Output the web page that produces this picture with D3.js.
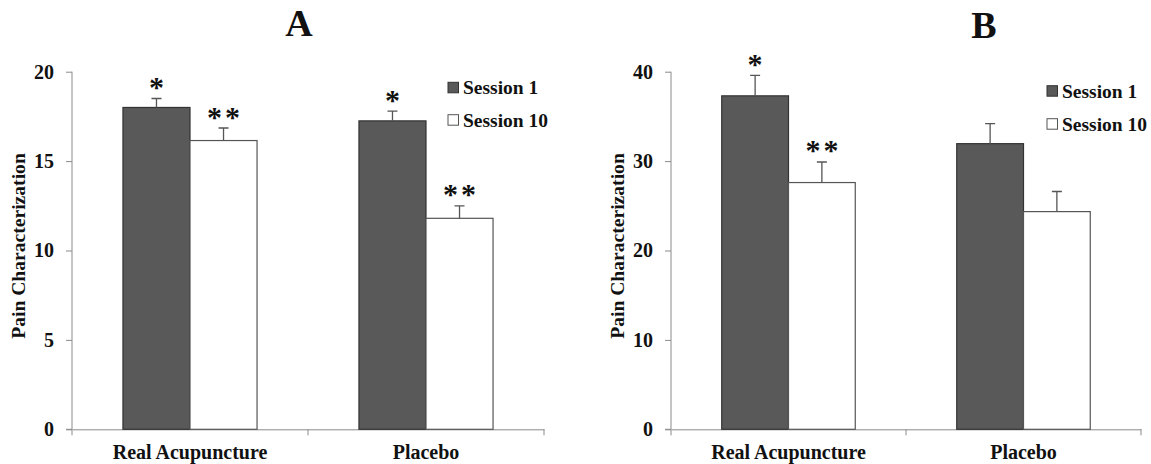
<!DOCTYPE html>
<html>
<head>
<meta charset="utf-8">
<script src="https://cdn.jsdelivr.net/npm/d3@7"></script>
<style>
  html, body { margin: 0; padding: 0; background: #fff; }
  svg text { font-family: "Liberation Serif", "Times New Roman", "DejaVu Serif", serif !important; font-weight: bold; fill: #111; }
</style>
</head>
<body>
<svg id="chart" width="1151" height="464" font-family="Liberation Serif, serif"></svg>
<script>
// ---- data ----
const categories = ["Real Acupuncture", "Placebo"];
const seriesNames = ["Session 1", "Session 10"];
const panelTitles = ["A", "B"];
const yAxisTitle = "Pain Characterization";

const ticksA = [0, 5, 10, 15, 20];
const session1A = [18.0, 17.25];
const session1ErrA = [0.5, 0.55];
const session10A = [16.15, 11.8];
const session10ErrA = [0.7, 0.7];
const marksS1A = ["*", "*"];
const marksS10A = ["**", "**"];

const ticksB = [0, 10, 20, 30, 40];
const session1B = [37.3, 31.95];
const session1ErrB = [2.3, 2.25];
const session10B = [27.6, 24.35];
const session10ErrB = [2.3, 2.25];
const marksS1B = ["*", ""];
const marksS10B = ["**", ""];

const seriesColors = ["#595959", "#ffffff"];
const seriesStroke = ["#333333", "#555555"];

const FONT = "Liberation Serif, Times New Roman, serif";
const svg = d3.select("#chart");

function drawPanel(cfg) {
  const g = svg.append("g");
  const y = d3.scaleLinear().domain([0, cfg.ticks[cfg.ticks.length - 1]]).range([429.3, 71.7]);
  const x0 = d3.scaleBand().domain(categories).range([cfg.left, cfg.right]).paddingInner(0).paddingOuter(0);
  const x1 = d3.scaleBand().domain(seriesNames).range([0, x0.bandwidth()]).paddingInner(0).paddingOuter(0.76);

  // y axis
  const yAxis = d3.axisLeft(y).tickValues(cfg.ticks).tickSize(6).tickPadding(12);
  const yg = g.append("g").attr("transform", `translate(${cfg.left},0)`).call(yAxis)
    .attr("font-family", FONT).attr("font-size", 20).attr("font-weight", "bold");
  yg.select(".domain").attr("stroke", "#8a8a8a").attr("d", `M-6,${y(0)}H0V${y.range()[1]}`);
  yg.selectAll(".tick line").attr("stroke", "#8a8a8a");
  yg.selectAll(".tick text").attr("fill", "#111");

  // x axis (labels)
  const xAxis = d3.axisBottom(x0).tickSize(0).tickPadding(16);
  const xg = g.append("g").attr("transform", `translate(0,${y(0)})`).call(xAxis)
    .attr("font-family", FONT).attr("font-size", 20).attr("font-weight", "bold");
  xg.select(".domain").attr("stroke", "#8a8a8a");
  xg.selectAll(".tick text").attr("fill", "#111");
  // boundary ticks between categories
  const bounds = categories.map(c => x0(c) + x0.bandwidth()).concat([x0(categories[0])]);
  g.selectAll(".btick").data(bounds).enter().append("line")
    .attr("x1", d => d).attr("x2", d => d)
    .attr("y1", y(0)).attr("y2", y(0) + 6)
    .attr("stroke", "#8a8a8a");

  // bars
  const rows = [];
  categories.forEach((c, i) => {
    rows.push({cat: c, s: 0, v: cfg.s1[i], e: cfg.e1[i], m: cfg.m1[i]});
    rows.push({cat: c, s: 1, v: cfg.s10[i], e: cfg.e10[i], m: cfg.m10[i]});
  });
  g.selectAll(".bar").data(rows).enter().append("rect")
    .attr("x", d => x0(d.cat) + x1(seriesNames[d.s]))
    .attr("y", d => y(d.v))
    .attr("width", x1.bandwidth())
    .attr("height", d => y(0) - y(d.v))
    .attr("fill", d => seriesColors[d.s])
    .attr("stroke", d => seriesStroke[d.s])
    .attr("stroke-width", 1.2);

  // error bars
  const cx = d => x0(d.cat) + x1(seriesNames[d.s]) + x1.bandwidth() / 2;
  g.selectAll(".err").data(rows).enter().append("path")
    .attr("d", d => `M${cx(d)},${y(d.v)}V${y(d.v + d.e)}M${cx(d) - 5},${y(d.v + d.e)}H${cx(d) + 5}`)
    .attr("stroke", "#555").attr("stroke-width", 1.3).attr("fill", "none");

  // significance marks
  g.selectAll(".sig").data(rows.filter(d => d.m)).enter().append("text")
    .attr("x", d => cx(d) + 1.5)
    .attr("y", d => y(d.v + d.e) - 1.5)
    .attr("text-anchor", "middle")
    .style("font-size", "30px")
    .style("letter-spacing", "3px")
    .text(d => d.m);

  // y axis title
  g.append("text")
    .attr("transform", `translate(${cfg.left - 47},246) rotate(-90)`)
    .attr("text-anchor", "middle")
    .style("font-size", "19.6px")
    .text(yAxisTitle);

  // panel title
  g.append("text")
    .attr("x", cfg.titleX).attr("y", cfg.titleY)
    .attr("text-anchor", "middle")
    .style("font-size", "38px")
    .text(cfg.title);

  // legend
  const lg = g.append("g").attr("transform", `translate(${cfg.legX},${cfg.legY})`);
  seriesNames.forEach((s, i) => {
    const row = lg.append("g").attr("transform", `translate(0,${i * cfg.legStep})`);
    row.append("rect").attr("x", 0).attr("y", -12).attr("width", 10.5).attr("height", 10.5)
      .attr("fill", seriesColors[i]).attr("stroke", seriesStroke[i]).attr("stroke-width", 1);
    row.append("text").attr("x", 15).attr("y", 0).style("font-size", "19.5px").text(s);
  });
}

drawPanel({left: 72, right: 544, ticks: ticksA, s1: session1A, e1: session1ErrA, s10: session10A, e10: session10ErrA,
  m1: marksS1A, m10: marksS10A, title: panelTitles[0], titleX: 299, titleY: 36, legX: 448, legY: 94.3, legStep: 32.4});
drawPanel({left: 671, right: 1141, ticks: ticksB, s1: session1B, e1: session1ErrB, s10: session10B, e10: session10ErrB,
  m1: marksS1B, m10: marksS10B, title: panelTitles[1], titleX: 984, titleY: 38, legX: 1047, legY: 97.7, legStep: 33});
</script>
</body>
</html>
